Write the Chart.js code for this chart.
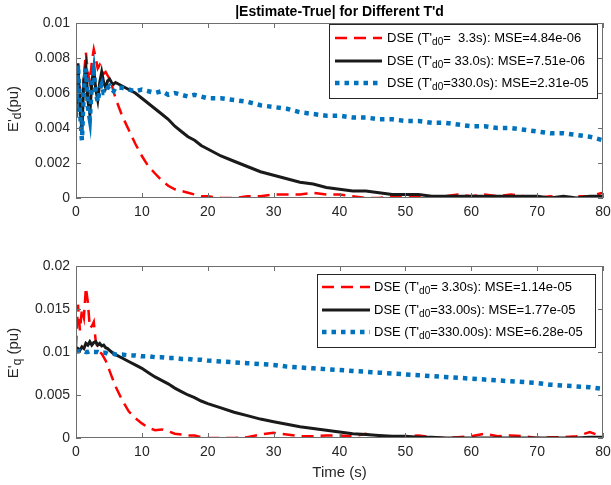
<!DOCTYPE html>
<html>
<head>
<meta charset="utf-8">
<script src="https://cdn.jsdelivr.net/npm/chart.js@4/dist/chart.umd.min.js"></script>
<style>
  body { margin: 0; background: #fff; }
  #wrap { position: relative; width: 611px; height: 485px; }
  canvas { position: absolute; left: 0; }
</style>
</head>
<body>
<div id="wrap">
  <canvas id="grafico_ed" width="611" height="240" style="top:0"></canvas>
  <canvas id="grafico_eq" width="611" height="245" style="top:240px"></canvas>
</div>
<script>
// tiempo (s)
var time = [0, 0.3, 0.6, 0.9, 1.2, 1.5, 1.8, 2.1, 2.4, 2.7, 3.0, 3.3, 3.6, 3.9, 4.2, 4.5, 4.8, 5.1, 5.4, 5.7, 6.0,
  7, 8, 9, 10, 11, 12, 13, 14, 15, 16, 17, 18, 19, 20,
  22, 24, 26, 28, 30, 32, 34, 36, 38, 40, 42, 44, 46, 48, 50, 52, 54, 56, 58, 60, 62, 64, 66, 68, 70, 72, 74, 76, 78, 80];

// |Estimate-True| E'd
var ed_fast = [0.0050, 0.0068, 0.0062, 0.0052, 0.0070, 0.0083, 0.0072, 0.0066, 0.0078, 0.0085, 0.0080, 0.0074, 0.0076, 0.0073, 0.0071, 0.0072, 0.0070, 0.0068, 0.0065, 0.0061, 0.0057,
  0.0047, 0.0039, 0.0031, 0.0024, 0.0018, 0.0014, 0.0010, 0.0007, 0.0005, 0.0004, 0.0003, 0.0002, 0.0001, 0.0001,
  0.0000, 0.0000, 0.0001, 0.0001, 0.0002, 0.0002, 0.0002, 0.0003, 0.0002, 0.0002, 0.0001, 0.0000, 0.0000, 0.0001, 0.0000, 0.0001, 0.0000, 0.0001, 0.0002, 0.0001, 0.0002, 0.0001, 0.0002, 0.0001, 0.0000, 0.0001, 0.0000, 0.0001, 0.0001, 0.0003];
var ed_mid = [0.0046, 0.0077, 0.0052, 0.0038, 0.0068, 0.0075, 0.0056, 0.0048, 0.0066, 0.0074, 0.0062, 0.0056, 0.0066, 0.0072, 0.0066, 0.0063, 0.0067, 0.0068, 0.0066, 0.0065, 0.0066,
  0.0064, 0.0062, 0.0060, 0.0057, 0.0054, 0.0051, 0.0048, 0.0045, 0.0041, 0.0038, 0.0035, 0.0033, 0.0030, 0.0028,
  0.0024, 0.0021, 0.0018, 0.0015, 0.0013, 0.0011, 0.0009, 0.0008, 0.0006, 0.0005, 0.0004, 0.0004, 0.0003, 0.0002, 0.0002, 0.0002, 0.0001, 0.0001, 0.0001, 0.0001, 0.0001, 0.0001, 0.0001, 0.0001, 0.0001, 0.0000, 0.0001, 0.0000, 0.0001, 0.0001];
var ed_slow = [0.0046, 0.0076, 0.0050, 0.0033, 0.0062, 0.0074, 0.0052, 0.0045, 0.0064, 0.0072, 0.0060, 0.0055, 0.0062, 0.0065, 0.0060, 0.0060, 0.0063, 0.0064, 0.0062, 0.0061, 0.0063,
  0.0063, 0.0062, 0.0061, 0.0062, 0.0061, 0.0060, 0.0061, 0.0059, 0.0060, 0.0059, 0.0058, 0.0059, 0.0058, 0.0057,
  0.0057, 0.0056, 0.0055, 0.0053, 0.0052, 0.0051, 0.0049, 0.0048, 0.0047, 0.0047, 0.0046, 0.0046, 0.0045, 0.0045, 0.0044, 0.0044, 0.0043, 0.0043, 0.0042, 0.0041, 0.0041, 0.0040, 0.0040, 0.0039, 0.0038, 0.0037, 0.0037, 0.0036, 0.0035, 0.0033];

// |Estimate-True| E'q
var eq_fast = [0.0105, 0.0155, 0.0125, 0.0150, 0.0140, 0.0175, 0.0158, 0.0128, 0.0130, 0.0135, 0.0112, 0.0105, 0.0100, 0.0098, 0.0094, 0.0090, 0.0085, 0.0078, 0.0072, 0.0066, 0.0060,
  0.0044, 0.0031, 0.0023, 0.0017, 0.0012, 0.0009, 0.0010, 0.0008, 0.0005, 0.0004, 0.0003, 0.0003, 0.0001, 0.0000,
  0.0000, 0.0000, 0.0001, 0.0004, 0.0006, 0.0004, 0.0002, 0.0002, 0.0003, 0.0003, 0.0002, 0.0005, 0.0000, 0.0001, 0.0002, 0.0003, 0.0001, 0.0000, 0.0001, 0.0002, 0.0005, 0.0002, 0.0003, 0.0002, 0.0000, 0.0001, 0.0001, 0.0002, 0.0007, 0.0001];
var eq_mid = [0.0100, 0.0104, 0.0102, 0.0106, 0.0104, 0.0110, 0.0108, 0.0112, 0.0108, 0.0111, 0.0112, 0.0108, 0.0110, 0.0107, 0.0108, 0.0105, 0.0104, 0.0102, 0.0100, 0.0098, 0.0097,
  0.0093, 0.0089, 0.0085, 0.0081, 0.0076, 0.0071, 0.0067, 0.0063, 0.0058, 0.0054, 0.0050, 0.0047, 0.0043, 0.0040,
  0.0035, 0.0030, 0.0026, 0.0022, 0.0019, 0.0016, 0.0013, 0.0011, 0.0009, 0.0007, 0.0005, 0.0004, 0.0003, 0.0002, 0.0002, 0.0001, 0.0001, 0.0000, 0.0000, 0.0000, 0.0000, 0.0000, 0.0000, 0.0000, 0.0000, 0.0000, 0.0000, 0.0000, 0.0001, 0.0001];
var eq_slow = [0.0100, 0.0101, 0.0101, 0.0100, 0.0101, 0.0100, 0.0100, 0.0101, 0.0100, 0.0100, 0.0100, 0.0100, 0.0099, 0.0099, 0.0099, 0.0099, 0.0098, 0.0098, 0.0098, 0.0098, 0.0097,
  0.0097, 0.0096, 0.0096, 0.0095, 0.0095, 0.0094, 0.0094, 0.0093, 0.0093, 0.0092, 0.0092, 0.0091, 0.0091, 0.0090,
  0.0089, 0.0088, 0.0087, 0.0086, 0.0085, 0.0083, 0.0082, 0.0081, 0.0080, 0.0079, 0.0078, 0.0077, 0.0076, 0.0075, 0.0074, 0.0073, 0.0072, 0.0071, 0.0070, 0.0069, 0.0068, 0.0067, 0.0066, 0.0065, 0.0064, 0.0062, 0.0061, 0.0060, 0.0059, 0.0057];

// textos de leyenda: [antes, subindice, despues]
var ed_labels = [["DSE (T'", "d0", "=  3.3s): MSE=4.84e-06"], ["DSE (T'", "d0", "= 33.0s): MSE=7.51e-06"], ["DSE (T'", "d0", "=330.0s): MSE=2.31e-05"]];
var eq_labels = [["DSE (T'", "d0", "= 3.30s): MSE=1.14e-05"], ["DSE (T'", "d0", "=33.00s): MSE=1.77e-05"], ["DSE (T'", "d0", "=330.00s): MSE=6.28e-05"]];
var x_ticks = [0, 10, 20, 30, 40, 50, 60, 70, 80];
var ed_ticks = [0, 0.002, 0.004, 0.006, 0.008, 0.01];
var eq_ticks = [0, 0.005, 0.01, 0.015, 0.02];

var FONT = '"Liberation Sans", Arial, sans-serif';
var estilos = [
  { color: "#ff0000", width: 2.5, dash: [12, 7] },
  { color: "#1a1a1a", width: 3, dash: [] },
  { color: "#0072bd", width: 4.5, dash: [4.5, 5] }
];

function puntos(vals) {
  return time.map(function (t, i) { return { x: t, y: vals[i] }; });
}

function texto(ctx, parts, x, y, size, centrar) {
  var w = 0;
  parts.forEach(function (p, i) {
    ctx.font = (i === 1 ? size - 3 : size) + "px " + FONT;
    w += ctx.measureText(p).width;
  });
  if (centrar) x -= w / 2;
  parts.forEach(function (p, i) {
    ctx.font = (i === 1 ? size - 3 : size) + "px " + FONT;
    ctx.fillText(p, x, i === 1 ? y + 4 : y);
    x += ctx.measureText(p).width;
  });
}

function marco(cfg) {
  return {
    id: "marco",
    afterDraw: function (chart) {
      var ctx = chart.ctx, a = chart.chartArea;
      var sx = chart.scales.x, sy = chart.scales.y;
      ctx.save();
      ctx.strokeStyle = "#6e6e6e";
      ctx.lineWidth = 1;
      ctx.strokeRect(a.left + 0.5, a.top + 0.5, a.right - a.left - 1, a.bottom - a.top - 1);
      ctx.beginPath();
      x_ticks.forEach(function (v) {
        var px = Math.round(sx.getPixelForValue(v)) + 0.5;
        ctx.moveTo(px, a.bottom); ctx.lineTo(px, a.bottom - 5);
        ctx.moveTo(px, a.top); ctx.lineTo(px, a.top + 5);
      });
      cfg.yticks.forEach(function (v) {
        var py = Math.round(sy.getPixelForValue(v)) + 0.5;
        ctx.moveTo(a.left, py); ctx.lineTo(a.left + 5, py);
        ctx.moveTo(a.right, py); ctx.lineTo(a.right - 5, py);
      });
      ctx.stroke();

      // leyenda
      var b = cfg.box;
      ctx.fillStyle = "#fff";
      ctx.fillRect(b.x, b.y, b.w, b.h);
      ctx.strokeStyle = "#262626";
      ctx.strokeRect(b.x + 0.5, b.y + 0.5, b.w, b.h);
      ctx.textBaseline = "middle";
      cfg.labels.forEach(function (lab, i) {
        var st = estilos[i], y = b.rows[i];
        ctx.strokeStyle = st.color;
        ctx.lineWidth = st.width;
        ctx.setLineDash(st.dash);
        ctx.beginPath();
        ctx.moveTo(b.l0, y); ctx.lineTo(b.l1, y);
        ctx.stroke();
        ctx.setLineDash([]);
        ctx.fillStyle = "#000";
        texto(ctx, lab, b.tx, y, 13, false);
      });

      // titulo
      if (cfg.title) {
        ctx.fillStyle = "#000";
        ctx.font = "bold 14px " + FONT;
        ctx.textAlign = "center";
        ctx.fillText(cfg.title, (a.left + a.right) / 2, 12);
        ctx.textAlign = "left";
      }
      if (cfg.xtitle) {
        ctx.fillStyle = "#262626";
        texto(ctx, [cfg.xtitle], (a.left + a.right) / 2, cfg.xtitleY, 15, true);
      }

      // etiqueta del eje y
      ctx.translate(14, cfg.ylabelY);
      ctx.rotate(-Math.PI / 2);
      ctx.fillStyle = "#262626";
      texto(ctx, cfg.ylabel, 0, 0, 15, true);
      ctx.restore();
    }
  };
}

function grafica(id, series, yticks, ymax, padTop, xh, cfg) {
  var ctx = document.getElementById(id).getContext("2d");
  return new Chart(ctx, {
    type: "line",
    data: {
      datasets: series.map(function (vals, i) {
        return {
          data: puntos(vals),
          borderColor: estilos[i].color,
          borderWidth: estilos[i].width,
          borderDash: estilos[i].dash,
          pointRadius: 0,
          tension: 0,
          fill: false
        };
      }).reverse()
    },
    options: {
      responsive: false,
      animation: false,
      devicePixelRatio: 1,
      layout: { padding: { top: padTop, right: 8, left: 0, bottom: 0 } },
      plugins: { legend: { display: false }, tooltip: { enabled: false } },
      scales: {
        x: {
          type: "linear",
          min: 0, max: 80,
          afterBuildTicks: function (s) { s.ticks = x_ticks.map(function (v) { return { value: v }; }); },
          afterFit: function (s) { s.height = xh; s.paddingRight = 0; s.paddingLeft = 0; },
          grid: { display: false, drawTicks: false },
          border: { display: false },
          ticks: { color: "#262626", font: { size: 14, family: FONT }, padding: 6, maxRotation: 0 }
        },
        y: {
          min: 0, max: ymax,
          afterBuildTicks: function (s) { s.ticks = yticks.map(function (v) { return { value: v }; }); },
          afterFit: function (s) { s.width = 76; s.paddingTop = 0; s.paddingBottom = 0; },
          grid: { display: false, drawTicks: false },
          border: { display: false },
          ticks: {
            color: "#262626", font: { size: 14, family: FONT }, padding: 6,
            callback: function (v) { return String(+Number(v).toFixed(4)); }
          }
        }
      }
    },
    plugins: [marco(cfg)]
  });
}

document.addEventListener("DOMContentLoaded", function () {
  grafica("grafico_ed", [ed_fast, ed_mid, ed_slow], ed_ticks, 0.01, 23, 42, {
    yticks: ed_ticks,
    labels: ed_labels,
    box: { x: 329, y: 24, w: 268, h: 74, rows: [38, 61, 83], l0: 335, l1: 382, tx: 387 },
    title: "|Estimate-True| for Different T'd",
    ylabel: ["E'", "d", "(pu)"],
    ylabelY: 109
  });
  grafica("grafico_eq", [eq_fast, eq_mid, eq_slow], eq_ticks, 0.02, 26, 47, {
    yticks: eq_ticks,
    labels: eq_labels,
    box: { x: 317, y: 34, w: 278, h: 73, rows: [47, 70, 92], l0: 322, l1: 370, tx: 374 },
    xtitle: "Time (s)",
    xtitleY: 233,
    ylabel: ["E'", "q", " (pu)"],
    ylabelY: 113
  });
});
</script>
</body>
</html>
